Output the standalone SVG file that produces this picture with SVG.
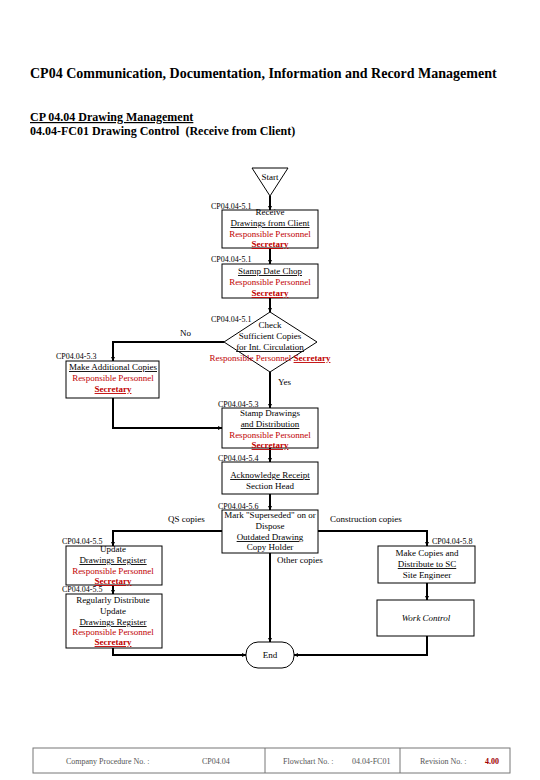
<svg xmlns="http://www.w3.org/2000/svg" width="540" height="780" viewBox="0 0 540 780">
<style>
text{font-family:"Liberation Serif","Times New Roman",serif;fill:#000}
.t{font-size:14px;font-weight:bold}
.s{font-size:12px;font-weight:bold}
.n{font-size:9px;text-anchor:middle}
.u{text-decoration:underline}
.r{fill:#c00000}
.sec{fill:#c00000;font-weight:bold;text-decoration:underline}
.lb{font-size:8px}
.cl{font-size:9px}
.box{fill:#fff;stroke:#000;stroke-width:1}
.ln{fill:none;stroke:#000;stroke-width:2}
.ft{font-size:8px;fill:#555}
</style>
<defs>
<marker id="ah" viewBox="0 0 10 10" refX="10" refY="5" markerWidth="4" markerHeight="4" orient="auto" markerUnits="userSpaceOnUse">
<path d="M0,0 L10,5 L0,10 z" fill="#000"/>
</marker>
</defs>
<rect width="540" height="780" fill="#fff"/>
<text class="t" x="30" y="78">CP04 Communication, Documentation, Information and Record Management</text>
<text class="s u" x="30" y="121">CP 04.04 Drawing Management</text>
<text class="s" x="30" y="135" xml:space="preserve">04.04-FC01 Drawing Control  (Receive from Client)</text>

<g id="connectors">
<path class="ln" d="M270,196 V210" marker-end="url(#ah)"/>
<path class="ln" d="M270,248 V264" marker-end="url(#ah)"/>
<path class="ln" d="M270,298 V312" marker-end="url(#ah)"/>
<path class="ln" d="M224,342 H113 V361" marker-end="url(#ah)"/>
<path class="ln" d="M270,372 V408" marker-end="url(#ah)"/>
<path class="ln" d="M113,398 V428 H222" marker-end="url(#ah)"/>
<path class="ln" d="M270,448 V462" marker-end="url(#ah)"/>
<path class="ln" d="M270,494 V510" marker-end="url(#ah)"/>
<path class="ln" d="M222,531 H113 V546" marker-end="url(#ah)"/>
<path class="ln" d="M113,585 V594" marker-end="url(#ah)"/>
<path class="ln" d="M113,648 V655 H246" marker-end="url(#ah)"/>
<path class="ln" d="M318,531 H427 V546" marker-end="url(#ah)"/>
<path class="ln" d="M427,583 V600" marker-end="url(#ah)"/>
<path class="ln" d="M427,636 V655 H294" marker-end="url(#ah)"/>
<path class="ln" d="M270,553 V642" marker-end="url(#ah)"/>
<text class="cl" x="180" y="336">No</text>
<text class="cl" x="278" y="385">Yes</text>
<text class="cl" x="168" y="522">QS copies</text>
<text class="cl" x="330" y="522">Construction copies</text>
<text class="cl" x="277" y="563">Other copies</text>
</g>

<g id="start">
<path d="M252,168 H288 L270,196 Z" class="box"/>
<text class="n" x="270" y="180">Start</text>
</g>

<g id="receive">
<rect class="box" x="222" y="210" width="96" height="38"/>
<text class="lb" x="211" y="209">CP04.04-5.1</text>
<text class="n" x="270" y="215">Receive</text>
<text class="n u" x="270" y="226">Drawings from Client</text>
<text class="n r" x="270" y="237">Responsible Personnel</text>
<text class="n sec" x="270" y="247">Secretary</text>
</g>

<g id="stamp">
<rect class="box" x="222" y="264" width="96" height="34"/>
<text class="lb" x="211" y="262">CP04.04-5.1</text>
<text class="n u" x="270" y="274">Stamp Date Chop</text>
<text class="n r" x="270" y="285">Responsible Personnel</text>
<text class="n sec" x="270" y="296">Secretary</text>
</g>

<g id="check">
<path class="box" d="M270,312 L317,342 L270,372 L224,342 Z"/>
<text class="lb" x="211" y="322">CP04.04-5.1</text>
<text class="n" x="270" y="328">Check</text>
<text class="n" x="270" y="339">Sufficient Copies</text>
<text class="n u" x="270" y="350">for Int. Circulation</text>
<text class="n r" x="270" y="361">Responsible Personnel <tspan class="sec">Secretary</tspan></text>
</g>

<g id="additional">
<rect class="box" x="66" y="361" width="93" height="37"/>
<text class="lb" x="56" y="359">CP04.04-5.3</text>
<text class="n u" x="113" y="370">Make Additional Copies</text>
<text class="n r" x="113" y="381">Responsible Personnel</text>
<text class="n sec" x="113" y="392">Secretary</text>
</g>

<g id="distribution">
<rect class="box" x="222" y="408" width="96" height="40"/>
<text class="lb" x="218" y="407">CP04.04-5.3</text>
<text class="n" x="270" y="416">Stamp Drawings</text>
<text class="n u" x="270" y="427">and Distribution</text>
<text class="n r" x="270" y="438">Responsible Personnel</text>
<text class="n sec" x="270" y="448">Secretary</text>
</g>

<g id="acknowledge">
<rect class="box" x="222" y="462" width="96" height="32"/>
<text class="lb" x="218" y="461">CP04.04-5.4</text>
<text class="n u" x="270" y="478">Acknowledge Receipt</text>
<text class="n" x="270" y="489">Section Head</text>
</g>

<g id="mark">
<rect class="box" x="222" y="510" width="96" height="43"/>
<text class="lb" x="218" y="509">CP04.04-5.6</text>
<text class="n" x="270" y="518">Mark "Superseded" on or</text>
<text class="n" x="270" y="529">Dispose</text>
<text class="n u" x="270" y="540">Outdated Drawing</text>
<text class="n" x="270" y="550">Copy Holder</text>
</g>

<g id="update">
<rect class="box" x="66" y="546" width="96" height="39"/>
<text class="lb" x="62" y="544">CP04.04-5.5</text>
<text class="n" x="113" y="552">Update</text>
<text class="n u" x="113" y="563">Drawings Register</text>
<text class="n r" x="113" y="574">Responsible Personnel</text>
<text class="n sec" x="113" y="584">Secretary</text>
</g>

<g id="regular">
<rect class="box" x="66" y="594" width="96" height="54"/>
<text class="lb" x="62" y="592">CP04.04-5.5</text>
<text class="n" x="113" y="603">Regularly Distribute</text>
<text class="n" x="113" y="614">Update</text>
<text class="n u" x="113" y="625">Drawings Register</text>
<text class="n r" x="113" y="635">Responsible Personnel</text>
<text class="n sec" x="113" y="645">Secretary</text>
</g>

<g id="copies">
<rect class="box" x="378" y="546" width="97" height="37"/>
<text class="lb" x="432" y="544">CP04.04-5.8</text>
<text class="n" x="427" y="556">Make Copies and</text>
<text class="n u" x="427" y="567">Distribute to SC</text>
<text class="n" x="427" y="578">Site Engineer</text>
</g>

<g id="work">
<rect class="box" x="377" y="600" width="97" height="36"/>
<text class="n" x="426" y="621" style="font-style:italic">Work Control</text>
</g>

<g id="end">
<rect class="box" x="246" y="642" width="48" height="26" rx="12"/>
<text class="n" x="270" y="658">End</text>
</g>

<g id="footer">
<rect x="33" y="748" width="477" height="25" fill="none" stroke="#777" stroke-width="1"/>
<line x1="265" y1="748" x2="265" y2="773" stroke="#777"/>
<line x1="400" y1="748" x2="400" y2="773" stroke="#777"/>
<text class="ft" x="66" y="764">Company Procedure No. :</text>
<text class="ft" x="202" y="764">CP04.04</text>
<text class="ft" x="283" y="764">Flowchart No. :</text>
<text class="ft" x="352" y="764">04.04-FC01</text>
<text class="ft" x="420" y="764">Revision No. :</text>
<text class="ft" x="485" y="764" style="fill:#a00000;font-weight:bold">4.00</text>
</g>
</svg>
